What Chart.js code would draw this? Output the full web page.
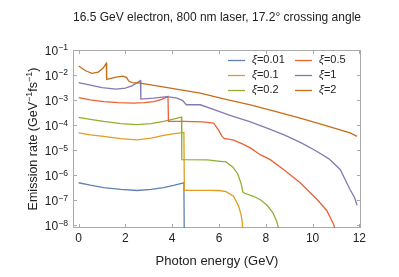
<!DOCTYPE html>
<html>
<head>
<meta charset="utf-8">
<script src="https://cdn.jsdelivr.net/npm/chart.js@4.4.1/dist/chart.umd.min.js"></script>
<style>
  body { margin: 0; background: #fff; }
</style>
</head>
<body>
<canvas id="emissionChart" width="399" height="277"></canvas>
<script>
// Series labels and colours (xi values)
const xiLabels = ["0.01", "0.1", "0.2", "0.5", "1", "2"];
const xiColors = ["#5e81b5", "#e19c24", "#8fb032", "#eb6235", "#8778b3", "#c56e1a"];

// Photon energy (GeV) / emission rate (GeV^-1 fs^-1)
const energy001 = [0, 0.5, 1.07, 1.8, 2.5, 3.1, 3.63, 4.1, 4.5, 4.52];
const rate001 = [5.0e-7, 4.0e-7, 3.2e-7, 2.7e-7, 2.45e-7, 2.7e-7, 3.2e-7, 4.0e-7, 5.0e-7, 1e-9];

const energy01 = [0, 0.5, 1.07, 1.8, 2.5, 3.1, 3.63, 4.1, 4.5, 4.52, 5.5, 6.0, 6.3, 6.62, 6.84, 6.95, 7.0, 7.05];
const rate01 = [4.9e-5, 4.1e-5, 3.55e-5, 2.9e-5, 2.6e-5, 3.0e-5, 3.9e-5, 4.6e-5, 5.1e-5, 2.5e-7, 2.5e-7, 2.45e-7, 2.2e-7, 1.45e-7, 5.9e-8, 2.5e-8, 1.2e-8, 1e-9];

const energy02 = [0, 0.5, 1.07, 1.8, 2.5, 3.1, 3.63, 4.0, 4.4, 4.41, 5.5, 6.06, 6.3, 6.6, 6.8, 6.95, 7.02, 7.1, 7.5, 7.8, 8.05, 8.3, 8.45, 8.56, 8.6];
const rate02 = [2.04e-4, 1.7e-4, 1.41e-4, 1.15e-4, 1.04e-4, 1.15e-4, 1.41e-4, 1.7e-4, 2.1e-4, 4.2e-6, 4.1e-6, 3.6e-6, 3.4e-6, 2.1e-6, 1.12e-6, 4.5e-7, 2.1e-7, 1.9e-7, 1.41e-7, 1.0e-7, 6.3e-8, 3.2e-8, 1.6e-8, 7e-9, 1e-9];

const energy05 = [0, 0.5, 1.07, 1.7, 2.35, 2.8, 3.21, 3.55, 3.82, 3.84, 4.5, 5.3, 5.77, 5.97, 6.13, 6.22, 6.4, 6.62, 7.0, 7.34, 7.76, 8.19, 8.76, 9.47, 10.19, 10.6, 10.9, 11.0];
const rate05 = [1.26e-3, 1.02e-3, 8.7e-4, 7.9e-4, 7.6e-4, 7.9e-4, 8.7e-4, 1.07e-3, 1.38e-3, 1.41e-4, 1.41e-4, 1.35e-4, 1.2e-4, 6.6e-5, 3.55e-5, 2.95e-5, 2.75e-5, 2.5e-5, 1.78e-5, 1.23e-5, 6.6e-6, 4.2e-6, 1.7e-6, 5.0e-7, 1.07e-7, 4.0e-8, 1.1e-8, 5e-9];

const energy1 = [0, 0.5, 1.0, 1.6, 2.0, 2.3, 2.64, 2.66, 3.2, 3.78, 4.21, 4.45, 4.6, 5.2, 6.0, 6.5, 7.28, 8.0, 8.76, 9.5, 10.19, 10.7, 11.18, 11.6, 11.8, 11.9];
const rate1 = [5.0e-3, 3.98e-3, 3.16e-3, 2.75e-3, 3.02e-3, 3.8e-3, 6.0e-3, 1.1e-3, 1.2e-3, 1.38e-3, 1.2e-3, 9.5e-4, 6.5e-4, 6.5e-4, 3.55e-4, 2.4e-4, 1.41e-4, 7.9e-5, 4.2e-5, 2.0e-5, 8.9e-6, 4.5e-6, 1.7e-6, 2.7e-7, 1.26e-7, 6.3e-8];

const energy2 = [0, 0.3, 0.57, 0.84, 1.05, 1.18, 1.2, 1.6, 1.9, 2.05, 2.15, 2.3, 2.64, 3.92, 5.2, 6.2, 7.34, 8.4, 9.47, 10.5, 11.6, 11.9];
const rate2 = [2.29e-2, 1.48e-2, 1.17e-2, 1.32e-2, 1.91e-2, 2.95e-2, 6.76e-3, 8.32e-3, 9.12e-3, 7.94e-3, 5.62e-3, 5.01e-3, 4.79e-3, 3.02e-3, 1.91e-3, 1.12e-3, 6.46e-4, 3.55e-4, 1.91e-4, 1.0e-4, 4.9e-5, 3.55e-5];

// Axis ticks (y labels are 10 with the exponent written as a superscript)
const xTicks = [0, 2, 4, 6, 8, 10, 12];
const yTicks = [1e-8, 1e-7, 1e-6, 1e-5, 1e-4, 1e-3, 1e-2, 1e-1];
const yTickExponents = ["\u22128", "\u22127", "\u22126", "\u22125", "\u22124", "\u22123", "\u22122", "\u22121"];

const energies = [energy001, energy01, energy02, energy05, energy1, energy2];
const rates = [rate001, rate01, rate02, rate05, rate1, rate2];

const fontFamily = "'Liberation Sans', Arial, sans-serif";
const textColor = "#222";
const frameColor = "#aaaaaa";

const data = {
  datasets: xiLabels.map((lab, k) => ({
    label: "\u03BE=" + lab,
    borderColor: xiColors[k],
    backgroundColor: xiColors[k],
    borderWidth: 1.3,
    pointRadius: 0,
    tension: 0,
    fill: false,
    order: xiLabels.length - k,
    data: energies[k].map((e, i) => ({ x: e, y: rates[k][i] }))
  }))
};

// draws text pieces in a row; pieces flagged sup are smaller and raised
function drawPieces(ctx, pieces, x, y, size) {
  pieces.forEach(p => {
    ctx.font = (p.sup ? size * 0.72 : size) + "px " + fontFamily;
    ctx.fillText(p.t, x, p.sup ? y - size * 0.38 : y);
    x += ctx.measureText(p.t).width;
  });
}
function piecesWidth(ctx, pieces, size) {
  let w = 0;
  pieces.forEach(p => {
    ctx.font = (p.sup ? size * 0.72 : size) + "px " + fontFamily;
    w += ctx.measureText(p.t).width;
  });
  return w;
}

// frame with inward ticks on all four sides, y labels, y title, in-plot legend
const framePlugin = {
  id: "frame",
  beforeDatasetsDraw(chart) {
    const { ctx, chartArea: a, scales } = chart;
    ctx.save();
    ctx.strokeStyle = frameColor;
    ctx.lineWidth = 1;
    ctx.strokeRect(a.left + 0.5, a.top + 0.5, a.right - a.left - 1, a.bottom - a.top - 1);
    ctx.beginPath();
    xTicks.forEach(v => {
      const px = Math.round(scales.x.getPixelForValue(v)) + 0.5;
      ctx.moveTo(px, a.bottom); ctx.lineTo(px, a.bottom - 4);
      ctx.moveTo(px, a.top); ctx.lineTo(px, a.top + 4);
    });
    yTicks.forEach(v => {
      const py = Math.round(scales.y.getPixelForValue(v)) + 0.5;
      ctx.moveTo(a.left, py); ctx.lineTo(a.left + 4, py);
      ctx.moveTo(a.right, py); ctx.lineTo(a.right - 4, py);
    });
    ctx.stroke();

    // y tick labels
    ctx.fillStyle = textColor;
    ctx.textBaseline = "alphabetic";
    ctx.textAlign = "left";
    yTicks.forEach((v, i) => {
      const py = scales.y.getPixelForValue(v);
      const pieces = [{ t: "10" }, { t: yTickExponents[i], sup: true }];
      const w = piecesWidth(ctx, pieces, 12);
      drawPieces(ctx, pieces, a.left - 5 - w, py + 5, 12);
    });

    // y axis title
    const title = [{ t: "Emission rate (GeV" }, { t: "\u22121", sup: true }, { t: "fs" }, { t: "\u22121", sup: true }, { t: ")" }];
    const tw = piecesWidth(ctx, title, 12.5);
    ctx.translate(37, (a.top + a.bottom) / 2);
    ctx.rotate(-Math.PI / 2);
    drawPieces(ctx, title, -tw / 2, 0, 12.5);
    ctx.restore();
  },
  afterDraw(chart) {
    const ctx = chart.ctx;
    const colX = [228, 295];
    const rowY = [60, 75, 90];
    ctx.save();
    ctx.textBaseline = "middle";
    xiLabels.forEach((lab, k) => {
      const x = colX[Math.floor(k / 3)];
      const y = rowY[k % 3];
      ctx.strokeStyle = xiColors[k];
      ctx.lineWidth = 1.3;
      ctx.beginPath();
      ctx.moveTo(x, y + 0.5); ctx.lineTo(x + 17, y + 0.5);
      ctx.stroke();
      ctx.fillStyle = textColor;
      ctx.font = "italic 11px " + fontFamily;
      ctx.fillText("\u03BE", x + 24, y);
      const w = ctx.measureText("\u03BE").width;
      ctx.font = "11px " + fontFamily;
      ctx.fillText("=" + lab, x + 24 + w, y);
    });
    ctx.restore();
  }
};

const config = {
  type: "line",
  data: data,
  plugins: [framePlugin],
  options: {
    responsive: false,
    animation: false,
    layout: { padding: { left: 0, right: 38, top: 0, bottom: 0 } },
    plugins: {
      legend: { display: false },
      tooltip: { enabled: false },
      title: {
        display: true,
        fullSize: false,
        text: "16.5 GeV electron, 800 nm laser, 17.2\u00B0 crossing angle",
        color: textColor,
        font: { family: fontFamily, size: 13, weight: "normal" },
        padding: { top: 10, bottom: 24.4 }
      }
    },
    scales: {
      x: {
        type: "linear",
        min: -0.24,
        max: 12.07,
        afterBuildTicks: s => { s.ticks = xTicks.map(v => ({ value: v })); },
        afterFit: s => { s.height = 49; },
        grid: { display: false, drawTicks: false },
        border: { display: false },
        ticks: { color: textColor, font: { family: fontFamily, size: 12 }, padding: 3, maxRotation: 0, autoSkip: false },
        title: {
          display: true,
          text: "Photon energy (GeV)",
          color: textColor,
          font: { family: fontFamily, size: 13 },
          padding: { top: 0, bottom: 7.5 }
        }
      },
      y: {
        type: "logarithmic",
        min: 7.8e-9,
        max: 0.1,
        afterBuildTicks: s => { s.ticks = yTicks.map(v => ({ value: v })); },
        afterFit: s => { s.width = 73; },
        grid: { display: false, drawTicks: false },
        border: { display: false },
        ticks: { display: false }
      }
    }
  }
};

const emissionChart = new Chart(document.getElementById("emissionChart"), config);
</script>
</body>
</html>
